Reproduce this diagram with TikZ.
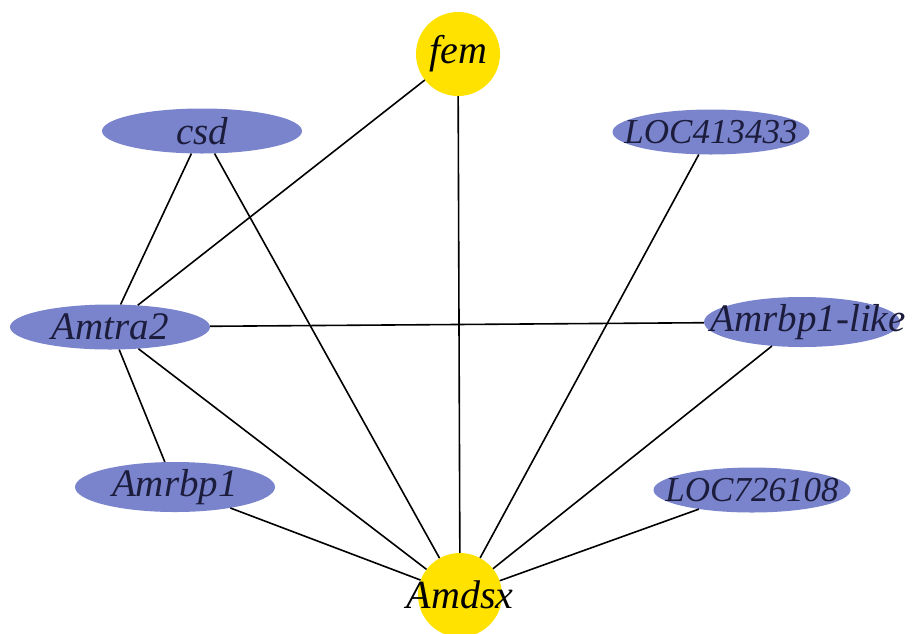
\documentclass[tikz,border=0pt]{standalone}
\usepackage{fontspec}
\setmainfont{Liberation Serif}[ItalicFont={Liberation Serif Italic}]
\newfontfamily\genefont{Liberation Serif Italic}
\usetikzlibrary{shapes.geometric}
\definecolor{genefill}{RGB}{122,132,204}
\definecolor{hubfill}{RGB}{255,226,0}
\definecolor{genetext}{RGB}{28,28,60}
\tikzset{
  gene/.style={ellipse, fill=genefill, draw=none, inner sep=0pt,
    minimum width=200pt, minimum height=45pt, text=genetext,
    font=\genefont\fontsize{39}{41}\selectfont},
  locgene/.style={gene, minimum width=197pt, font=\genefont\fontsize{35}{37}\selectfont},
  hub/.style={circle, fill=hubfill, draw=none, inner sep=0pt,
    minimum size=84pt, text=black, font=\genefont\fontsize{40}{42}\selectfont},
  link/.style={draw=black, line width=1.6pt}
}
\newcommand{\zw}[1]{\makebox[0pt]{#1}}
\begin{document}
\begin{tikzpicture}[x=1pt,y=-1pt]
\useasboundingbox (0,0) rectangle (917,633);
\node[hub] (fem) at (458,54) {\zw{fem}};
\node[hub] (amdsx) at (460,595) {\zw{Amdsx}};
\node[gene] (csd) at (202,131) {\zw{csd}};
\node[locgene] (loc413) at (711,132) {\zw{LOC413433}};
\node[gene] (amtra) at (110,327) {\zw{Amtra2}};
\node[gene, minimum width=196pt] (amrlike) at (802,322) {\zw{\hspace*{12pt}Amrbp1-like}};
\node[gene] (amrbp) at (175,487) {\zw{Amrbp1}};
\node[locgene] (loc726) at (752,490) {\zw{LOC726108}};
\draw[link] (fem) -- (amtra);
\draw[link] (fem) -- (amdsx);
\draw[link] (csd) -- (amtra);
\draw[link] (csd) -- (amdsx);
\draw[link] (loc413) -- (amdsx);
\draw[link] (amtra) -- (amrlike);
\draw[link] (amtra) -- (amdsx);
\draw[link] (amtra) -- (amrbp);
\draw[link] (amrlike) -- (amdsx);
\draw[link] (amrbp) -- (amdsx);
\draw[link] (loc726) -- (amdsx);
\end{tikzpicture}
\end{document}
